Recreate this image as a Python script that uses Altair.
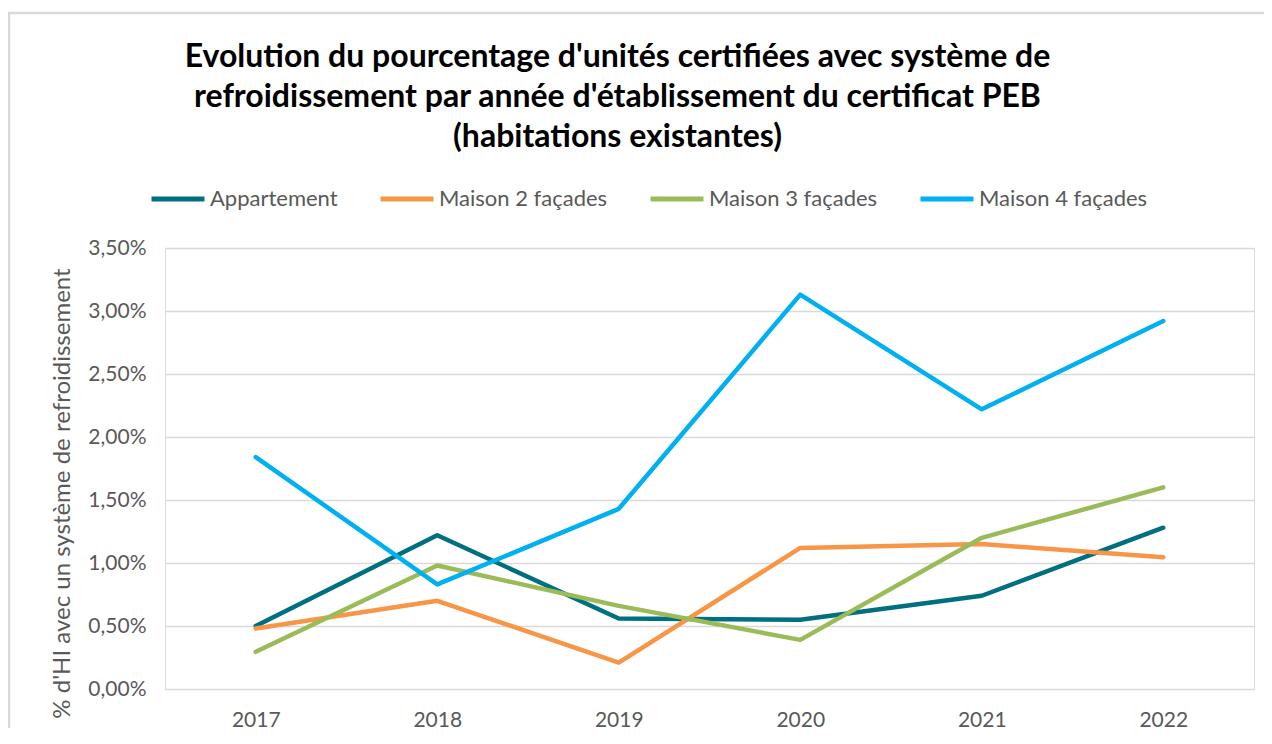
import altair as alt
import pandas as pd

years = ["2017", "2018", "2019", "2020", "2021", "2022"]
series_names = ["Appartement", "Maison 2 façades", "Maison 3 façades", "Maison 4 façades"]
appartement = [0.50, 1.22, 0.56, 0.55, 0.74, 1.28]
maison2 = [0.48, 0.70, 0.21, 1.12, 1.15, 1.045]
maison3 = [0.295, 0.98, 0.66, 0.39, 1.20, 1.60]
maison4 = [1.84, 0.83, 1.43, 3.13, 2.22, 2.92]
colors = ["#006F80", "#F79646", "#9BBB59", "#00B0F0"]

rows = []
for name, vals in zip(series_names, [appartement, maison2, maison3, maison4]):
    for y, v in zip(years, vals):
        rows.append({"annee": y, "serie": name, "valeur": v})
df = pd.DataFrame(rows)

FONT = "Lato"
GRAY = "#595959"

lines = alt.Chart(df).mark_line(strokeWidth=4.5, strokeCap="round", strokeJoin="round").encode(
    x=alt.X("annee:N", sort=years, title=None,
            scale=alt.Scale(paddingInner=0, paddingOuter=0.5),
            axis=alt.Axis(labelAngle=0, domain=False, ticks=False, grid=False,
                          labelFontSize=21, labelColor=GRAY, labelFont=FONT, labelPadding=20)),
    y=alt.Y("valeur:Q", title="% d'HI avec un système de refroidissement",
            scale=alt.Scale(domain=[0, 3.5], nice=False),
            axis=alt.Axis(values=[0, 0.5, 1, 1.5, 2, 2.5, 3, 3.5],
                          labelExpr="replace(format(datum.value, '.2f'), '.', ',') + '%'",
                          domain=False, ticks=False, grid=True, gridColor="#D9D9D9", gridWidth=1.5,
                          labelFontSize=21, labelColor=GRAY, labelFont=FONT, labelPadding=19,
                          titleFontSize=24, titleColor=GRAY, titleFont=FONT, titleFontWeight="normal",
                          titleAngle=270, titleX=-103, titleY=245, titleAlign="center",
                          titleBaseline="middle")),
    color=alt.Color("serie:N", sort=series_names,
                    scale=alt.Scale(domain=series_names, range=colors),
                    legend=alt.Legend(title=None, orient="none", direction="horizontal",
                                      legendX=-16, legendY=-78, symbolType="stroke",
                                      symbolSize=2809, symbolStrokeWidth=5,
                                      labelFontSize=22, labelColor=GRAY, labelFont=FONT,
                                      labelLimit=400,
                                      columnPadding=32, labelOffset=3, padding=0)),
    order=alt.Order("serie:N"),
)

frame_src = pd.DataFrame({"k": [0]})
top_edge = alt.Chart(frame_src).mark_rule(stroke="#D9D9D9", strokeWidth=2.5).encode(
    x=alt.value(-157), x2=alt.value(1100), y=alt.value(-235))
left_edge = alt.Chart(frame_src).mark_rule(stroke="#D9D9D9", strokeWidth=2.5).encode(
    x=alt.value(-156), y=alt.value(-236), y2=alt.value(480))

chart = alt.layer(top_edge, left_edge, lines).properties(
    width=1089,
    height=441,
    padding={"left": 157, "top": 240, "right": 10, "bottom": 40},
    autosize=alt.AutoSizeParams(type="none"),
    title=alt.TitleParams(
        text=["Evolution du pourcentage d'unités certifiées avec système de",
              "refroidissement par année d'établissement du certificat PEB",
              "(habitations existantes)"],
        font=FONT, fontSize=32, fontWeight="bold", color="#000000",
        anchor="middle", frame="group", dx=-92, lineHeight=40, offset=0, dy=143,
    ),
).configure_view(strokeWidth=0).configure(background="white")

chart.save("out.html", embed_options={"renderer": "svg", "actions": False})
